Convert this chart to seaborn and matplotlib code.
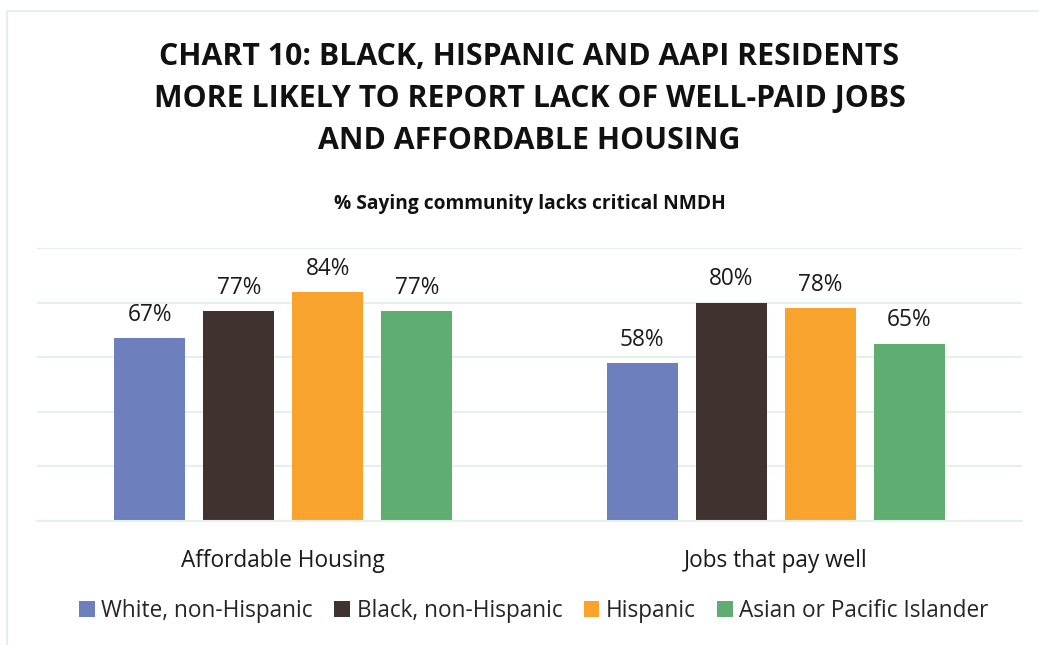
import matplotlib
matplotlib.use("Agg")
import matplotlib.pyplot as plt
from matplotlib.lines import Line2D
import seaborn as sns
import pandas as pd

# Survey results: share saying their community lacks each need
categories = ["Affordable Housing", "Jobs that pay well"]
groups = ["White, non-Hispanic", "Black, non-Hispanic", "Hispanic", "Asian or Pacific Islander"]
white = [67, 58]
black = [77, 80]
hispanic = [84, 78]
aapi = [77, 65]
colors = ["#6E7FBD", "#40332F", "#F9A32F", "#5FAD70"]

title = "CHART 10: BLACK, HISPANIC AND AAPI RESIDENTS\nMORE LIKELY TO REPORT LACK OF WELL-PAID JOBS\nAND AFFORDABLE HOUSING"
subtitle = "% Saying community lacks critical NMDH"

rows = []
for g, vals in zip(groups, [white, black, hispanic, aapi]):
    for c, v in zip(categories, vals):
        rows.append({"category": c, "group": g, "value": v})
df = pd.DataFrame(rows)

sns.set_theme(style="white")
plt.rcParams["font.family"] = ["Open Sans", "DejaVu Sans"]

W, H = 1039, 645
fig = plt.figure(figsize=(W / 100, H / 100), dpi=100)
fig.patch.set_facecolor("white")

ax = fig.add_axes([37 / W, 1 - 521 / H, (1022 - 37) / W, (521 - 248) / H])

grid_color = "#E4F0E8"
sns.barplot(data=df, x="category", y="value", hue="group", order=categories,
            hue_order=groups, palette=colors, width=0.723, gap=0.2,
            saturation=1, linewidth=0, ax=ax, legend=True)

ax.set_xlim(-0.5, 1.5)
ax.set_ylim(0, 100)
ax.set_yticks([0, 20, 40, 60, 80, 100])
ax.set_yticklabels([])
ax.tick_params(axis="both", length=0)
ax.yaxis.grid(True, color=grid_color, linewidth=1.5)
ax.set_axisbelow(True)
for s in ["top", "right", "left"]:
    ax.spines[s].set_visible(False)
ax.spines["bottom"].set_color(grid_color)
ax.spines["bottom"].set_linewidth(1.5)
ax.set_xlabel("")
ax.set_ylabel("")
ax.tick_params(axis="x", labelsize=16.3, colors="#1a1a1a", pad=20)

for cont in ax.containers:
    vals = [b.get_height() for b in cont]
    ax.bar_label(cont, labels=[f"{v:.0f}%" for v in vals], padding=8,
                 fontsize=16.3, color="#1a1a1a", clip_on=False)

sns.move_legend(ax, "center", bbox_to_anchor=(534 / W, 1 - 611 / H),
                bbox_transform=fig.transFigure, ncol=4, frameon=False,
                title=None, fontsize=16.3, handlelength=0.68, handleheight=0.68,
                handletextpad=0.3, columnspacing=0.95)

cx = 529.5 / W
fig.text(cx, 1 - 99 / H, title, ha="center", va="center", fontsize=21.8,
         fontweight="bold", color="#111111", linespacing=1.52)
fig.text(cx, 1 - 204 / H, subtitle, ha="center", va="center", fontsize=13.8,
         fontweight="bold", color="#111111")

# thin frame around the chart area
fig.add_artist(Line2D([7 / W, 1.0], [1 - 11 / H, 1 - 11 / H], color=grid_color,
                      linewidth=1.5, transform=fig.transFigure))
fig.add_artist(Line2D([7 / W, 7 / W], [1 - 11 / H, 0.0], color=grid_color,
                      linewidth=1.5, transform=fig.transFigure))

fig.savefig("out.png", dpi=100, facecolor="white")
